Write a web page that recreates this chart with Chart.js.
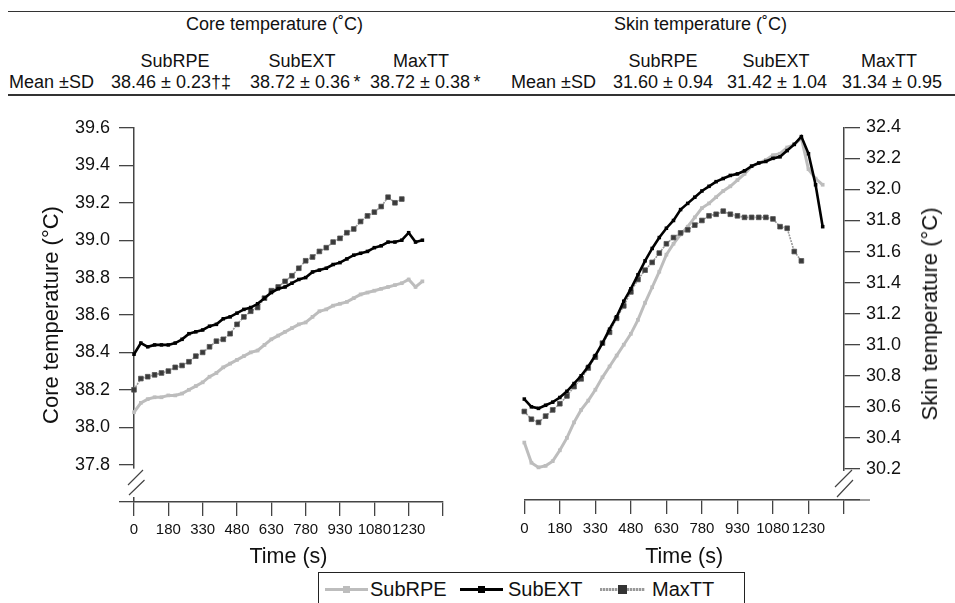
<!DOCTYPE html>
<html>
<head>
<meta charset="utf-8">
<script src="https://cdn.jsdelivr.net/npm/chart.js@4/dist/chart.umd.min.js"></script>
<style>
  html,body{margin:0;padding:0;background:#fff;}
  #wrap{position:relative;width:955px;height:603px;overflow:hidden;font-family:"Liberation Sans",Arial,sans-serif;color:#111;}
  .t{position:absolute;white-space:nowrap;font-size:18px;line-height:18px;}
  .c{transform:translateX(-50%);}
  .rule{position:absolute;left:8px;width:947px;height:0;}
  canvas{position:absolute;}
  #ytitleR{position:absolute;left:930px;top:314px;font-size:22px;line-height:22px;white-space:nowrap;transform:translate(-50%,-50%) rotate(-90deg);}
  #legend{position:absolute;left:318px;top:572px;width:425px;height:40px;border:1.5px solid #222;font-size:20px;}
  .li{position:absolute;top:6px;line-height:20px;}
  .ls{position:absolute;top:15px;height:3px;}
  .lm{position:absolute;}
</style>
</head>
<body>
<div id="wrap">
  <div class="rule" style="top:11px;border-top:1.5px solid #333;"></div>
  <div class="t" style="left:186px;top:15px;">Core temperature (˚C)</div>
  <div class="t" style="left:614px;top:15px;">Skin temperature (˚C)</div>

  <div class="t c" style="left:175px;top:52px;">SubRPE</div>
  <div class="t c" style="left:302px;top:52px;">SubEXT</div>
  <div class="t c" style="left:421px;top:52px;">MaxTT</div>
  <div class="t c" style="left:663px;top:52px;">SubRPE</div>
  <div class="t c" style="left:776px;top:52px;">SubEXT</div>
  <div class="t c" style="left:889px;top:52px;">MaxTT</div>

  <div class="t" style="left:9px;top:73px;">Mean ±SD</div>
  <div class="t" style="left:111px;top:73px;">38.46 ± 0.23†‡</div>
  <div class="t" style="left:250px;top:73px;">38.72 ± 0.36&#8201;*</div>
  <div class="t" style="left:370px;top:73px;">38.72 ± 0.38&#8201;*</div>
  <div class="t" style="left:511px;top:73px;">Mean ±SD</div>
  <div class="t" style="left:613px;top:73px;">31.60 ± 0.94</div>
  <div class="t" style="left:727px;top:73px;">31.42 ± 1.04</div>
  <div class="t" style="left:842px;top:73px;">31.34 ± 0.95</div>
  <div class="rule" style="top:94px;border-top:2px solid #333;"></div>

  <canvas id="core" width="477" height="470" style="left:0px;top:100px;"></canvas>
  <canvas id="skin" width="477" height="470" style="left:478px;top:100px;"></canvas>
  <div id="ytitleR">Skin temperature (°C)</div>

  <div id="legend">
    <div class="ls" style="left:6px;width:43px;background:#bdbdbd;"></div>
    <div class="lm" style="left:24px;top:13px;width:7px;height:7px;background:#bdbdbd;"></div>
    <div class="li" style="left:51px;">SubRPE</div>
    <div class="ls" style="left:141px;width:43px;background:#000;"></div>
    <div class="lm" style="left:159px;top:13px;width:7px;height:7px;background:#000;"></div>
    <div class="li" style="left:189px;">SubEXT</div>
    <div class="ls" style="left:281px;width:45px;background:repeating-linear-gradient(90deg,#999 0 2px,#ddd 2px 3px);"></div>
    <div class="lm" style="left:299px;top:12px;width:9px;height:9px;background:#333;"></div>
    <div class="li" style="left:333px;">MaxTT</div>
  </div>
</div>

<script>
// ---- categories (time, s) ----
const times = ['0','60','90','120','150','180','210','240','270','300','330','360','390','420','450','480','510','540','570','600','630','660','690','720','750','780','810','840','870','900','930','960','990','1020','1050','1080','1110','1140','1170','1200','1230','1260','1290','1320','1350','1380'];
const xTickLabels = ['0','180','330','480','630','780','930','1080','1230'];
const xTickMarks = ['0','180','330','480','630','780','930','1080','1230','1380'];
const coreTicks = ['37.8','38.0','38.2','38.4','38.6','38.8','39.0','39.2','39.4','39.6'];
const skinTicks = ['30.2','30.4','30.6','30.8','31.0','31.2','31.4','31.6','31.8','32.0','32.2','32.4'];

// ---- core temperature (°C) ----
const coreSubRPE = [38.08,38.13,38.15,38.16,38.16,38.17,38.17,38.18,38.20,38.22,38.24,38.27,38.29,38.32,38.34,38.36,38.38,38.40,38.41,38.44,38.47,38.49,38.51,38.53,38.55,38.56,38.59,38.62,38.63,38.65,38.66,38.67,38.69,38.71,38.72,38.73,38.74,38.75,38.76,38.77,38.79,38.75,38.78];
const coreSubEXT = [38.39,38.45,38.43,38.44,38.44,38.44,38.45,38.47,38.50,38.51,38.52,38.54,38.55,38.58,38.59,38.61,38.63,38.64,38.66,38.69,38.72,38.74,38.75,38.77,38.79,38.80,38.83,38.84,38.85,38.87,38.88,38.90,38.92,38.93,38.94,38.96,38.97,38.99,38.99,39.00,39.04,38.99,39.00];
const coreMaxTT  = [38.20,38.26,38.27,38.28,38.29,38.30,38.32,38.33,38.35,38.38,38.40,38.43,38.46,38.47,38.50,38.55,38.59,38.62,38.64,38.69,38.73,38.75,38.78,38.81,38.85,38.89,38.91,38.94,38.96,38.99,39.01,39.04,39.06,39.10,39.13,39.15,39.18,39.23,39.20,39.22];

// ---- skin temperature (°C) ----
const skinSubRPE = [30.37,30.24,30.21,30.22,30.25,30.32,30.40,30.50,30.58,30.64,30.71,30.79,30.86,30.93,31.00,31.07,31.16,31.27,31.37,31.47,31.58,31.65,31.71,31.76,31.82,31.88,31.91,31.95,31.99,32.02,32.06,32.10,32.15,32.17,32.19,32.22,32.23,32.27,32.29,32.33,32.13,32.07,32.03];
const skinSubEXT = [30.65,30.60,30.59,30.61,30.63,30.66,30.70,30.75,30.80,30.86,30.93,31.01,31.10,31.18,31.28,31.36,31.45,31.54,31.62,31.69,31.75,31.80,31.87,31.91,31.95,31.99,32.02,32.05,32.07,32.09,32.10,32.12,32.15,32.17,32.18,32.20,32.21,32.25,32.29,32.34,32.23,32.03,31.76];
const skinMaxTT  = [30.57,30.52,30.50,30.54,30.58,30.62,30.67,30.73,30.78,30.85,30.92,31.01,31.08,31.17,31.25,31.34,31.42,31.48,31.53,31.59,31.65,31.69,31.72,31.74,31.77,31.80,31.83,31.84,31.86,31.84,31.83,31.82,31.82,31.82,31.82,31.81,31.76,31.75,31.60,31.54];

Chart.defaults.font.family = '"Liberation Sans", Arial, sans-serif';
Chart.defaults.color = '#111';

function seriesSets(rpe, ext, max) {
  return [
    {label:'SubRPE', data:rpe, borderColor:'#bdbdbd', backgroundColor:'#bdbdbd', borderWidth:3,
     pointStyle:'rect', pointRadius:2.6, pointBorderWidth:0, pointBackgroundColor:'#bdbdbd', order:3, clip:false, tension:0},
    {label:'SubEXT', data:ext, borderColor:'#000', backgroundColor:'#000', borderWidth:2.6,
     pointStyle:'rect', pointRadius:2.5, pointBorderWidth:0, pointBackgroundColor:'#000', order:1, clip:false, tension:0},
    {label:'MaxTT', data:max, borderColor:'#999', backgroundColor:'#3a3a3a', borderWidth:1.6, borderDash:[2,1],
     pointStyle:'rect', pointRadius:3.3, pointBorderWidth:0.8, pointBorderColor:'#555', pointBackgroundColor:'#3a3a3a', order:2, clip:false, tension:0}
  ];
}

const axisBreak = {
  id:'axisBreak',
  afterDraw(chart, args, o) {
    const {ctx, chartArea} = chart;
    const ys = chart.scales.y;
    const left = ys.position === 'left';
    const x0 = left ? chartArea.left : chartArea.right;
    const b = chartArea.bottom;
    const gTop = ys.getPixelForValue(o.lastTick) + o.gapStart;
    const gBot = b - o.gapEnd;
    ctx.save();
    ctx.fillStyle = '#fff';
    ctx.fillRect(x0 - 3, gTop, 6, gBot - gTop);
    ctx.strokeStyle = '#444';
    ctx.lineWidth = 1.2;
    ctx.beginPath();
    o.marks.forEach(m => { ctx.moveTo(x0 + m[0], b + m[1]); ctx.lineTo(x0 + m[2], b + m[3]); });
    if (o.extend) { ctx.moveTo(x0, b); ctx.lineTo(x0 + o.extend, b); }
    ctx.stroke();
    ctx.restore();
  }
};

function makeChart(id, rpe, ext, max, cfg) {
  return new Chart(document.getElementById(id), {
    type:'line',
    data:{labels:times, datasets:seriesSets(rpe, ext, max)},
    options:{
      responsive:false, animation:false, devicePixelRatio:1,
      layout:{padding:cfg.padding},
      plugins:{legend:{display:false}, tooltip:{enabled:false}, axisBreak:cfg.brk},
      scales:{
        x:{
          type:'category', offset:false,
          grid:{drawOnChartArea:false, drawTicks:true, tickLength:14, lineWidth:1.3,
                color:c => xTickMarks.includes(times[c.index]) ? '#444' : 'rgba(0,0,0,0)'},
          border:{display:true, color:'#444', width:1.5},
          ticks:{autoSkip:false, maxRotation:0, minRotation:0, padding:cfg.xPad, font:{size:15}, color:'#111',
                 callback:(v, i) => xTickLabels.includes(times[i]) ? times[i] : ''},
          title:{display:true, text:'Time (s)', font:{size:21.5}, color:'#111', padding:{top:0, bottom:0}},
          afterFit:s => { s.height = cfg.xh; }
        },
        y:{
          type:'linear', position:cfg.ypos, min:cfg.min, max:cfg.max,
          grid:{drawOnChartArea:false, drawTicks:true, tickLength:cfg.yTick, lineWidth:1.3, color:'#444'},
          border:{display:true, color:'#444', width:1.5},
          ticks:{stepSize:0.2, padding:cfg.yPad, font:{size:18}, color:'#111',
                 callback:v => { const t = v.toFixed(1); return cfg.labels.includes(t) ? t : ''; }},
          title:cfg.ytitle,
          afterFit:s => { s.width = cfg.yw; }
        }
      }
    },
    plugins:[axisBreak]
  });
}

makeChart('core', coreSubRPE, coreSubEXT, coreMaxTT, {
  padding:{left:0, top:28, right:34, bottom:0}, xh:68, yw:134, ypos:'left',
  min:37.6, max:39.6, labels:coreTicks, yTick:15, yPad:9, xPad:5,
  ytitle:{display:true, text:'Core temperature (°C)', font:{size:22}, color:'#111', padding:{top:39, bottom:0}},
  brk:{lastTick:37.8, gapStart:4, gapEnd:5, marks:[[-6,-17,9,-32],[-5,-7,10.5,-22]], extend:0}
});

makeChart('skin', skinSubRPE, skinSubEXT, skinMaxTT, {
  padding:{left:46.3, top:27.3, right:0, bottom:0}, xh:70, yw:111, ypos:'right',
  min:30.0, max:32.4, labels:skinTicks, yTick:16, yPad:6, xPad:6,
  ytitle:{display:false},
  brk:{lastTick:30.2, gapStart:2, gapEnd:1, marks:[[-9,-13,8,-30],[-7,-3,9,-20]], extend:26}
});
</script>
</body>
</html>
